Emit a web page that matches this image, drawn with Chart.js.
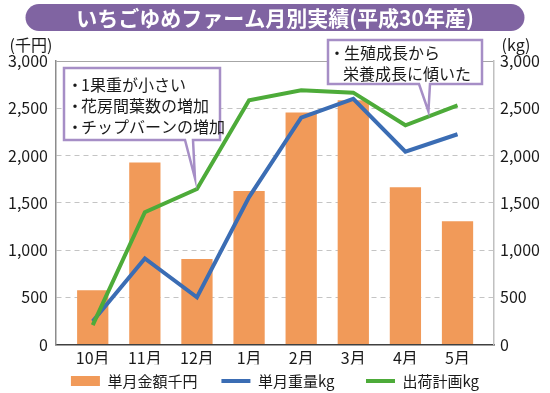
<!DOCTYPE html>
<html>
<head>
<meta charset="utf-8">
<script src="https://cdn.jsdelivr.net/npm/chart.js@4.4.0/dist/chart.umd.min.js"></script>
<style>
  html, body { margin: 0; padding: 0; background: #fff; }
  #wrap { width: 550px; height: 393px; }
</style>
</head>
<body>
<div id="wrap"><canvas id="chart" width="550" height="393"></canvas></div>
<script>
const title = 'いちごゆめファーム月別実績(平成30年産)';
const months = ['10月', '11月', '12月', '1月', '2月', '3月', '4月', '5月'];
const salesK = [575, 1925, 905, 1625, 2455, 2585, 1665, 1305];   // 単月金額千円
const weightKg = [245, 910, 500, 1560, 2400, 2600, 2040, 2225];  // 単月重量kg
const planKg = [205, 1400, 1645, 2585, 2690, 2665, 2320, 2530];  // 出荷計画kg
const leftUnit = '(千円)';
const rightUnit = '(kg)';
const notes1 = ['1果重が小さい', '花房間葉数の増加', 'チップバーンの増加'];
const notes2 = ['生殖成長から', '栄養成長に傾いた'];

const FONT = "'Noto Sans CJK JP', 'Noto Sans', sans-serif";
Chart.defaults.font.family = FONT;
Chart.defaults.color = '#1a1a1a';

const toPts = arr => arr.map((v, i) => ({ x: i, y: v }));

// draw a box with a little pointer wedge on its bottom edge
function callout(ctx, box, baseL, baseR, tip) {
  ctx.beginPath();
  ctx.moveTo(box.l, box.t);
  ctx.lineTo(box.r, box.t);
  ctx.lineTo(box.r, box.b);
  ctx.lineTo(baseR, box.b);
  ctx.lineTo(tip.x, tip.y);
  ctx.lineTo(baseL, box.b);
  ctx.lineTo(box.l, box.b);
  ctx.closePath();
  ctx.fillStyle = '#ffffff';
  ctx.fill();
  ctx.lineWidth = 2.5;
  ctx.strokeStyle = '#a68ec6';
  ctx.stroke();
}

const decor = {
  id: 'decor',
  beforeDraw(chart) {
    const { ctx, chartArea: a, width } = chart;
    ctx.save();
    // title pill
    ctx.beginPath();
    ctx.roundRect(width / 2 - 249.5, 4, 499, 27, 13.5);
    ctx.fillStyle = '#8064a2';
    ctx.fill();
    ctx.fillStyle = '#ffffff';
    ctx.font = 'bold 21px ' + FONT;
    ctx.textAlign = 'center';
    ctx.textBaseline = 'middle';
    ctx.fillText(title, width / 2, 18);
    // axis units
    ctx.fillStyle = '#1a1a1a';
    ctx.font = '16px ' + FONT;
    ctx.fillText(leftUnit, a.left - 25, a.top - 16);
    ctx.fillText(rightUnit, a.right + 22, a.top - 16);
    ctx.restore();
  },
  afterDatasetsDraw(chart) {
    const { ctx } = chart;
    const x = chart.scales.x, y2 = chart.scales.y2;
    ctx.save();
    ctx.font = '16px ' + FONT;
    ctx.textBaseline = 'middle';

    // note 1 points at the 12月 plan value
    const tip1 = { x: x.getPixelForValue(2) - 2, y: y2.getPixelForValue(planKg[2]) - 11 };
    callout(ctx, { l: 64, t: 68, r: 220, b: 140 }, 185, 193, tip1);
    ctx.fillStyle = '#1a1a1a';
    notes1.forEach((t, i) => {
      ctx.textAlign = 'center';
      ctx.fillText('・', 75, 85 + i * 21);
      ctx.textAlign = 'left';
      ctx.fillText(t, 81, 85 + i * 21);
    });

    // note 2 points between 4月 and 5月
    const tip2 = { x: x.getPixelForValue(6) + 23, y: y2.getPixelForValue(planKg[6]) - 14 };
    callout(ctx, { l: 328, t: 40, r: 482, b: 84 }, 419, 430, tip2);
    ctx.fillStyle = '#1a1a1a';
    ctx.textAlign = 'center';
    ctx.fillText('・', 337, 53);
    ctx.textAlign = 'left';
    ctx.fillText(notes2[0], 344, 53);
    ctx.fillText(notes2[1], 343, 74);
    ctx.restore();
  }
};

const ctx = document.getElementById('chart').getContext('2d');
const myChart = new Chart(ctx, {
  data: {
    datasets: [
      {
        type: 'bar',
        label: '単月金額千円',
        data: toPts(salesK),
        backgroundColor: '#f19a59',
        borderWidth: 0,
        barPercentage: 0.6,
        categoryPercentage: 1,
        pointStyle: 'rect',
        yAxisID: 'y',
        order: 3
      },
      {
        type: 'line',
        label: '単月重量kg',
        data: toPts(weightKg),
        borderColor: '#3b6db4',
        backgroundColor: '#3b6db4',
        borderWidth: 4,
        pointRadius: 0,
        pointStyle: 'line',
        tension: 0,
        yAxisID: 'y2',
        order: 2
      },
      {
        type: 'line',
        label: '出荷計画kg',
        data: toPts(planKg),
        borderColor: '#4dab39',
        backgroundColor: '#4dab39',
        borderWidth: 4,
        pointRadius: 0,
        pointStyle: 'line',
        tension: 0,
        yAxisID: 'y2',
        order: 1
      }
    ]
  },
  options: {
    responsive: false,
    animation: false,
    devicePixelRatio: 1,
    layout: { padding: { top: 61, bottom: -5.5, left: 0, right: 0 } },
    plugins: {
      tooltip: { enabled: false },
      legend: {
        position: 'bottom',
        labels: {
          usePointStyle: true,
          pointStyleWidth: 29,
          boxHeight: 10,
          padding: 9,
          font: { size: 15 },
          color: '#1a1a1a',
          sort: (a, b) => a.datasetIndex - b.datasetIndex,
          // widen the gaps between legend entries
          generateLabels: chart => {
            const items = Chart.defaults.plugins.legend.labels.generateLabels(chart);
            const gaps = ['\u3000', '\u3000\u2002', ''];
            items.forEach(it => { it.text = it.text + gaps[it.datasetIndex]; });
            return items;
          }
        }
      }
    },
    scales: {
      x: {
        type: 'linear',
        offset: false,
        min: -0.705,
        max: 7.7,
        afterBuildTicks: s => { s.ticks = months.map((m, i) => ({ value: i })); },
        afterFit: s => { s.height = 20; },
        ticks: {
          autoSkip: false,
          maxRotation: 0,
          padding: -4,
          font: { size: 16 },
          color: '#1a1a1a',
          callback: v => months[v]
        },
        grid: { display: false },
        border: { color: '#404040', width: 1.5 }
      },
      y: {
        position: 'left',
        min: 0,
        max: 3000,
        afterFit: s => { s.width = 56; },
        ticks: {
          stepSize: 500,
          padding: 8,
          font: { size: 16 },
          color: '#1a1a1a',
          callback: v => v.toLocaleString('en-US')
        },
        grid: {
          drawTicks: false,
          lineWidth: 1,
          color: c => c.tick.value === 0 ? 'rgba(0,0,0,0)' : (c.tick.value === 3000 ? '#a6a6a6' : '#c4c4c4')
        },
        border: {
          color: '#8c8c8c',
          width: 1.5,
          dash: c => (c.tick && c.tick.value !== 3000) ? [5, 4] : []
        }
      },
      y2: {
        position: 'right',
        min: 0,
        max: 3000,
        afterFit: s => { s.width = 56; },
        ticks: {
          stepSize: 500,
          padding: 6,
          font: { size: 16 },
          color: '#1a1a1a',
          callback: v => v.toLocaleString('en-US')
        },
        grid: { drawOnChartArea: false, drawTicks: false },
        border: { color: '#c0c0c0', width: 1.5 }
      }
    }
  },
  plugins: [decor]
});
</script>
</body>
</html>
